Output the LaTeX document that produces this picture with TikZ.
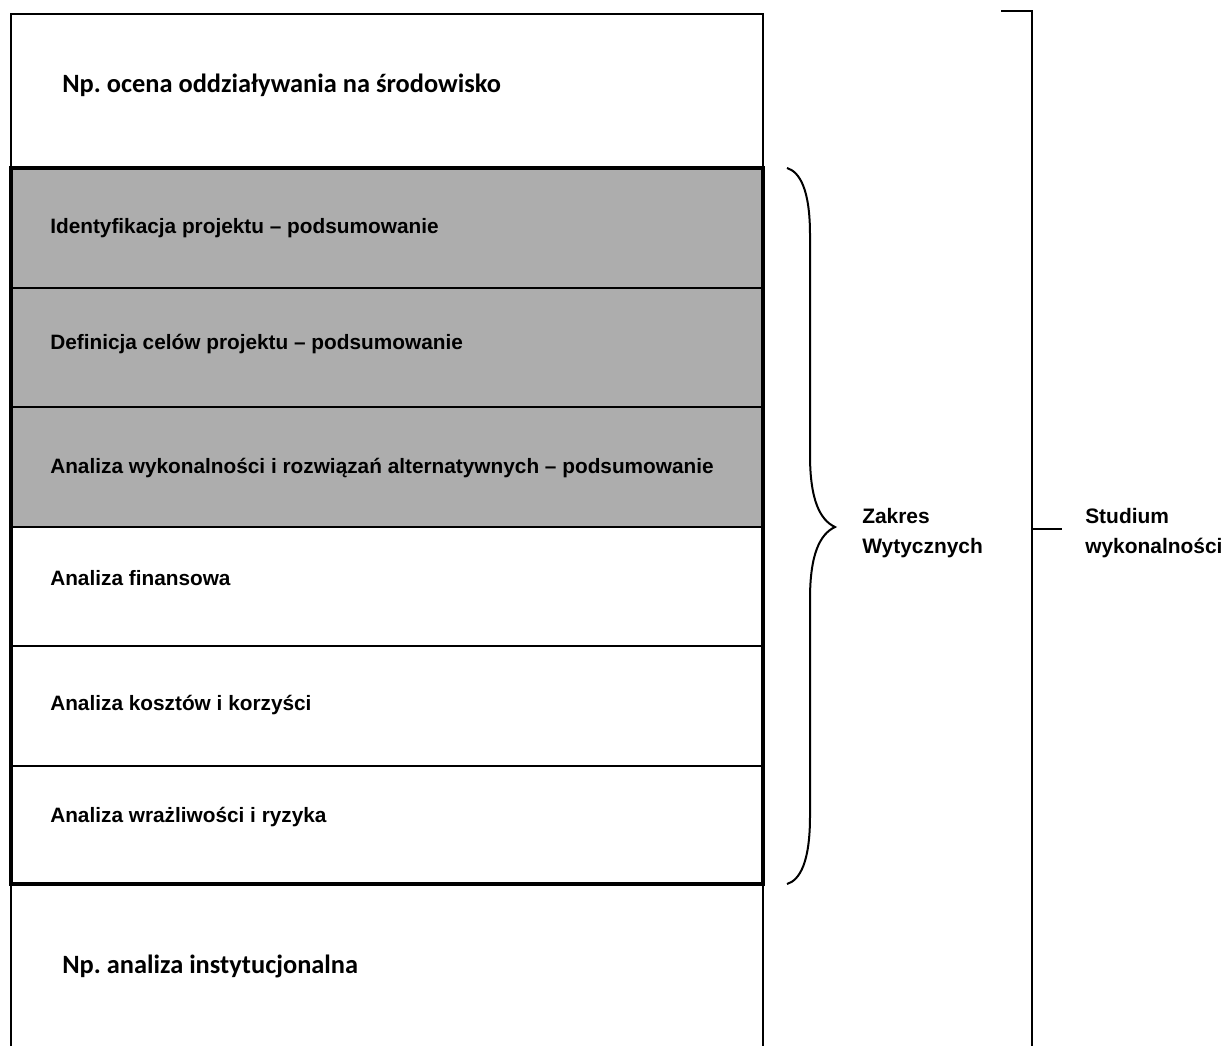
\documentclass[tikz,border=0pt]{standalone}
\usepackage{fontspec}
\setmainfont{Liberation Sans}
\newfontfamily\calib{Carlito}
\begin{document}
\frenchspacing
\begin{tikzpicture}[x=0.75pt,y=-0.75pt,
  outerline/.style={line width=1.6pt},
  innerline/.style={line width=2.6pt},
  divline/.style={line width=0.8pt},
  shaded/.style={fill=black!32},
  cal/.style={font=\calib\bfseries\fontsize{19.8}{24}\selectfont, anchor=west, inner sep=0pt},
  ari/.style={font=\bfseries\fontsize{15.6}{18}\selectfont, anchor=west, inner sep=0pt},
  sidelab/.style={font=\bfseries\fontsize{15.7}{22.5}\selectfont, align=left, anchor=west, inner sep=0pt}]
\useasboundingbox (0,0) rectangle (1223,1046);
% shaded area
\fill[shaded] (11,168) rectangle (763,527);
% outer box (open at bottom)
\draw[outerline] (11,1046) -- (11,14) -- (763,14) -- (763,1046);
% row dividers
\draw[divline] (11,288) -- (763,288);
\draw[divline] (11,407) -- (763,407);
\draw[divline] (11,527) -- (763,527);
\draw[divline] (11,646) -- (763,646);
\draw[divline] (11,766) -- (763,766);
% inner thick box
\draw[innerline] (11,168) rectangle (763,884);
% texts
\node[cal] (t0) at (62,85) {Np. ocena oddziaływania na środowisko};
\node[ari] (t1) at (50,228) {Identyfikacja projektu – podsumowanie};
\node[ari] (t2) at (50,344) {Definicja celów projektu – podsumowanie};
\node[ari] (t3) at (50,468) {Analiza wykonalności i rozwiązań alternatywnych – podsumowanie};
\node[ari] (t4) at (50,578) {Analiza finansowa};
\node[ari] (t5) at (50,705) {Analiza kosztów i korzyści};
\node[ari] (t6) at (50,817) {Analiza wrażliwości i ryzyka};
\node[cal] (t7) at (62,966) {Np. analiza instytucjonalna};
% brace
\coordinate (btop) at (787,168);
\coordinate (bmid) at (835,527);
\coordinate (bbot) at (787,884);
\draw[line width=1.5pt] (btop) .. controls (800,172) and (810,190) .. (810,235)
  -- (810,455) .. controls (810,500) and (820,520) .. (bmid)
  .. controls (820,534) and (810,554) .. (810,599)
  -- (810,816) .. controls (810,862) and (800,880) .. (bbot);
\node[sidelab] (zak) at (862,533) {Zakres\\Wytycznych};
% right bracket
\coordinate (rtop) at (1001,11);
\coordinate (rcorner) at (1032,11);
\coordinate (rbot) at (1032,1046);
\coordinate (rtick) at (1032,529);
\draw[line width=1.2pt] (rtop) -- (rcorner) -- (rbot);
\node[sidelab] (stu) at (1085,533) {Studium\\wykonalności};
\draw[line width=1pt] (rtick) -- (1062,529);
\end{tikzpicture}
\end{document}
